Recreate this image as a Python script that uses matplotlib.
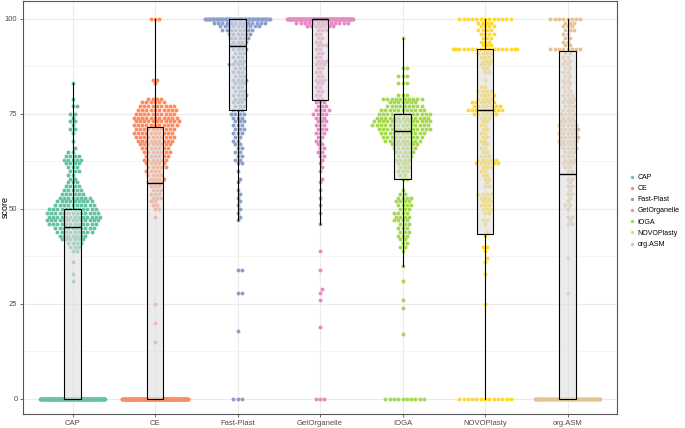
import numpy as np
import matplotlib
matplotlib.use('Agg')
import matplotlib.pyplot as plt
from matplotlib.lines import Line2D
from matplotlib.ticker import FixedLocator

plt.rcParams['font.family'] = ['Liberation Sans', 'DejaVu Sans']

# ---- data (score value -> number of points) ----
names = ['CAP', 'CE', 'Fast-Plast', 'GetOrganelle', 'IOGA', 'NOVOPlasty', 'org.ASM']
colors = ['#66C2A5', '#FC8D62', '#8DA0CB', '#E78AC3', '#A6D854', '#FFD92F', '#E5C494']

cap_vals = [83, 79, 77, 75, 74, 73, 72, 71, 70, 68, 66, 65, 64, 63, 62, 61, 60, 59, 58, 57, 56, 55,
            54, 53, 52, 51, 50, 49, 48, 47, 46, 45, 44, 43, 42, 41, 40, 39, 36, 33, 31, 0]
cap_cnts = [1, 1, 2, 2, 1, 2, 1, 2, 1, 1, 1, 2, 4, 5, 4, 3, 3, 2, 2, 3, 4, 5,
            6, 8, 9, 10, 12, 13, 13, 13, 12, 10, 9, 7, 6, 4, 3, 2, 1, 1, 1, 135]

ce_vals = [100, 84, 83, 79, 78, 77, 76, 75, 74, 73, 72, 71, 70, 69, 68, 67, 66, 65, 64, 63, 62, 61,
           60, 59, 58, 57, 56, 55, 54, 53, 52, 51, 50, 48, 25, 20, 15, 0]
ce_cnts = [3, 2, 1, 4, 6, 9, 10, 10, 11, 11, 11, 10, 10, 10, 9, 8, 7, 7, 6, 6, 5, 5,
           4, 4, 4, 4, 3, 3, 3, 3, 2, 2, 2, 1, 1, 1, 1, 160]

fp_vals = [100, 99, 98, 97, 96, 95, 94, 93, 92, 91, 90, 89, 88, 87, 86, 85, 84, 83, 82, 81, 80, 79,
           78, 77, 76, 75, 74, 73, 72, 71, 70, 69, 68, 67, 66, 65, 64, 63, 62, 60, 58, 57, 55, 54,
           53, 52, 51, 50, 49, 48, 47, 34, 28, 18, 0]
fp_cnts = [61, 13, 10, 8, 6, 5, 4, 4, 4, 3, 3, 3, 4, 3, 3, 3, 4, 3, 3, 3, 4, 3,
           3, 3, 3, 4, 3, 3, 3, 3, 3, 2, 2, 2, 2, 2, 2, 2, 2, 1, 1, 1, 1, 1,
           1, 1, 1, 1, 1, 1, 1, 2, 2, 1, 3]

go_vals = [100, 99, 98, 97, 96, 95, 94, 93, 92, 91, 90, 89, 88, 87, 86, 85, 84, 83, 82, 81, 80, 79,
           78, 77, 76, 75, 74, 73, 72, 71, 70, 69, 68, 67, 66, 65, 64, 63, 62, 61, 60, 58, 57, 55,
           53, 51, 49, 46, 39, 34, 29, 28, 26, 19, 0]
go_cnts = [124, 13, 7, 3, 2, 2, 2, 3, 2, 2, 2, 3, 3, 2, 2, 2, 3, 2, 2, 2, 2, 2,
           3, 3, 4, 4, 3, 3, 3, 3, 3, 2, 2, 2, 2, 2, 2, 1, 1, 1, 1, 1, 1, 1,
           1, 1, 1, 1, 1, 1, 1, 1, 1, 1, 3]

ioga_vals = [95, 87, 85, 83, 80, 79, 78, 77, 76, 75, 74, 73, 72, 71, 70, 69, 68, 67, 66, 65, 64, 63,
             62, 61, 60, 59, 58, 55, 54, 53, 52, 51, 50, 49, 48, 47, 46, 45, 44, 43, 42, 41, 40, 39,
             35, 31, 26, 24, 17, 0]
ioga_cnts = [1, 2, 3, 3, 3, 10, 7, 9, 11, 13, 13, 14, 14, 13, 11, 10, 9, 7, 6, 5, 4, 4,
             3, 3, 3, 2, 2, 1, 2, 4, 4, 4, 3, 4, 4, 4, 3, 3, 3, 3, 2, 2, 2, 1,
             1, 1, 1, 1, 1, 10]

novo_vals = [100, 99, 98, 97, 96, 95, 94, 93, 92, 91, 90, 89, 88, 87, 86, 84, 82, 81, 80, 79, 78, 77,
             76, 75, 74, 73, 72, 71, 70, 69, 68, 67, 66, 65, 64, 63, 62, 61, 60, 59, 58, 57, 56, 54,
             53, 52, 51, 50, 49, 47, 46, 44, 43, 40, 39, 37, 36, 33, 25, 0]
novo_cnts = [13, 4, 4, 4, 4, 3, 3, 3, 18, 4, 3, 3, 3, 2, 2, 1, 2, 4, 4, 4, 6, 7,
             9, 6, 3, 2, 2, 2, 2, 2, 2, 2, 2, 2, 3, 5, 6, 3, 2, 2, 2, 1, 2, 4,
             3, 3, 3, 3, 2, 2, 1, 1, 1, 2, 1, 1, 1, 1, 1, 13]

asm_vals = [100, 99, 98, 97, 96, 95, 94, 93, 92, 91, 90, 89, 88, 87, 86, 85, 84, 83, 82, 81, 80, 79,
            78, 77, 76, 75, 74, 73, 72, 71, 70, 69, 68, 67, 66, 65, 64, 63, 62, 61, 60, 58, 57, 56,
            55, 54, 53, 52, 51, 50, 48, 47, 46, 37, 28, 0]
asm_cnts = [8, 3, 3, 3, 2, 2, 2, 2, 8, 2, 2, 2, 2, 2, 2, 2, 2, 2, 2, 2, 3, 3,
            3, 3, 3, 4, 3, 4, 5, 5, 5, 5, 5, 4, 4, 3, 3, 3, 3, 2, 2, 2, 1, 2,
            1, 2, 1, 1, 2, 1, 2, 1, 2, 1, 1, 80]

# box statistics
box_q1 = [0, 0, 76.1, 78.7, 57.8, 43.3, 0]
box_med = [45.3, 56.7, 92.9, 100, 70.4, 76.1, 59.2]
box_q3 = [50.1, 71.5, 100, 100, 74.9, 92.0, 91.6]
box_lo = [0, 0, 47, 46, 35, 0, 0]
box_hi = [83, 100, 100, 100, 95, 100, 100]

groups = [(cap_vals, cap_cnts), (ce_vals, ce_cnts), (fp_vals, fp_cnts), (go_vals, go_cnts),
          (ioga_vals, ioga_cnts), (novo_vals, novo_cnts), (asm_vals, asm_cnts)]


def swarm(ypix, d):
    """beeswarm offsets (pixels) for points at pixel heights ypix"""
    order = np.argsort(ypix, kind='stable')
    xs = np.zeros(len(ypix))
    px, py = np.zeros(0), np.zeros(0)
    for i in order:
        y = ypix[i]
        near = np.abs(py - y) < d
        nx, ny = px[near], py[near]
        if len(nx) == 0:
            x = 0.0
        else:
            dx = np.sqrt(d * d - (ny - y) ** 2)
            cands = np.concatenate([[0.0], nx + dx, nx - dx])
            cands = cands[np.argsort(np.abs(cands), kind='stable')]
            dist = (cands[:, None] - nx[None, :]) ** 2 + (ny[None, :] - y) ** 2
            ok = np.all(dist >= d * d - 1e-6, axis=1)
            x = cands[np.argmax(ok)]
        xs[i] = x
        px = np.append(px, x)
        py = np.append(py, y)
    return xs


fig = plt.figure(figsize=(6.85, 4.28), dpi=100)
ax = fig.add_axes([23 / 685, 14 / 428, 594 / 685, 413 / 428])
ax.set_xlim(0.4, 7.6)
ax.set_ylim(-3.95, 104.7)

p0 = ax.transData.transform((0, 0))
ppx = ax.transData.transform((1, 0))[0] - p0[0]
ppy = ax.transData.transform((0, 1))[1] - p0[1]
gap = 4.3           # swarm spacing in pixels
corral = 0.8 * ppx  # width points are wrapped into

for i, (v, c) in enumerate(groups):
    vals = np.repeat(np.array(v, dtype=float), c)
    off = swarm(vals * ppy, gap)
    off = ((off + corral / 2) % corral) - corral / 2
    ax.scatter(i + 1 + off / ppx, vals, s=8, color=colors[i], linewidths=0, zorder=2)

stats = []
for k in range(len(names)):
    stats.append(dict(med=box_med[k], q1=box_q1[k], q3=box_q3[k],
                      whislo=box_lo[k], whishi=box_hi[k], fliers=[]))
ax.bxp(stats, positions=range(1, 8), widths=0.2, patch_artist=True, showfliers=False,
       showcaps=False, manage_ticks=False, zorder=3,
       boxprops=dict(facecolor=(0.87, 0.87, 0.87, 0.6), edgecolor='black', linewidth=0.8),
       medianprops=dict(color='black', linewidth=1.0),
       whiskerprops=dict(color='black', linewidth=0.8))

ax.set_xticks(range(1, 8))
ax.set_xticklabels(names)
ax.set_yticks([0, 25, 50, 75, 100])
ax.yaxis.set_minor_locator(FixedLocator([12.5, 37.5, 62.5, 87.5]))
ax.tick_params(which='minor', length=0)
ax.tick_params(which='major', labelsize=5.5, labelcolor='#4D4D4D', color='#333333',
               length=2.5, width=0.5, pad=1.5)
ax.grid(which='major', color='#EBEBEB', linewidth=0.8)
ax.grid(which='minor', axis='y', color='#F2F2F2', linewidth=0.5)
ax.set_axisbelow(True)
for s in ax.spines.values():
    s.set_color('#555555')
    s.set_linewidth(0.8)

# axis title placed in figure space so it stays inside the canvas
fig.text(5 / 685, 1 - 207 / 428, 'score', rotation=90, ha='center', va='center', fontsize=6.5)

handles = [Line2D([], [], marker='o', linestyle='', markersize=2.4,
                  markerfacecolor=col, markeredgewidth=0) for col in colors]
fig.legend(handles, names, loc='center left', bbox_to_anchor=(626 / 685, 1 - 211 / 428),
           frameon=False, fontsize=5.0, handlelength=0.8, handletextpad=0.4,
           labelspacing=0.6, borderpad=0)

fig.savefig('out.png', dpi=100)
